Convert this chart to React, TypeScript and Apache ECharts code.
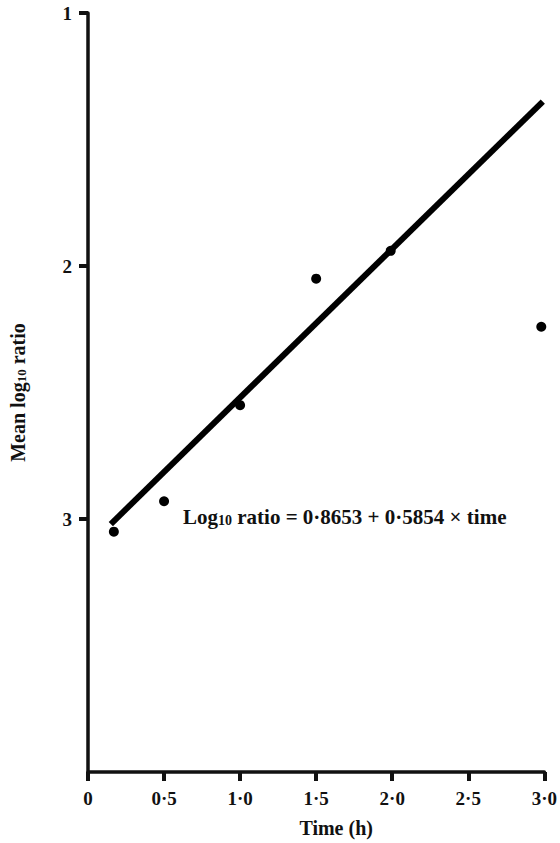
import React, { useEffect, useRef } from "react";
import * as echarts from "echarts";

const pointX = [0.17, 0.5, 1.0, 1.5, 1.99, 2.98];
const pointY = [3.05, 2.93, 2.55, 2.05, 1.94, 2.24];
const fitX = [0.15, 2.99];
const fitY = [3.02, 1.35];
const yTickValues = [1, 2, 3];
const yTickLabels = ["1", "2", "3"];
const xTickLabels = ["0", "0·5", "1·0", "1·5", "2·0", "2·5", "3·0"];

const FONT = "'Liberation Serif', 'DejaVu Serif', serif";

export default function App() {
  const ref = useRef<HTMLDivElement>(null);
  useEffect(() => {
    if (!ref.current) return;
    const chart = echarts.init(ref.current, undefined, { renderer: "svg" });
    chart.setOption({
      animation: false,
      backgroundColor: "#ffffff",
      grid: { left: 87, right: 12, top: 13, bottom: 71, containLabel: false },
      xAxis: {
        type: "value",
        min: 0,
        max: 3,
        interval: 0.5,
        name: "Time (h)",
        nameLocation: "middle",
        nameGap: 46,
        nameTextStyle: {
          fontFamily: FONT,
          fontWeight: "bold",
          fontSize: 20,
          color: "#111",
          padding: [0, 0, 0, 40],
        },
        axisLine: { show: true, onZero: false, lineStyle: { color: "#111", width: 3.5 } },
        axisTick: { show: true, length: 9, inside: false, lineStyle: { color: "#111", width: 4 } },
        axisLabel: {
          margin: 17,
          fontFamily: FONT,
          fontWeight: "bold",
          fontSize: 19,
          color: "#111",
          formatter: (v: number) => xTickLabels[Math.round(v * 2)] ?? "",
        },
        splitLine: { show: false },
      },
      yAxis: {
        type: "value",
        min: 1,
        max: 4,
        interval: 1,
        inverse: true,
        name: "{a|Mean log}{s|10}{a| ratio}",
        nameLocation: "middle",
        nameGap: 60,
        nameRotate: 90,
        nameTextStyle: {
          fontFamily: FONT,
          color: "#111",
          rich: {
            a: { fontFamily: FONT, fontWeight: "bold", fontSize: 20, color: "#111" },
            s: { fontFamily: FONT, fontWeight: "bold", fontSize: 13, color: "#111", padding: [7, 0, 0, 0] },
          },
        },
        axisLine: { show: true, onZero: false, lineStyle: { color: "#111", width: 3.5 } },
        axisTick: {
          show: true,
          length: 9,
          customValues: yTickValues,
          lineStyle: { color: "#111", width: 4 },
        },
        axisLabel: {
          margin: 16,
          fontFamily: FONT,
          fontWeight: "bold",
          fontSize: 19,
          color: "#111",
          formatter: (v: number) => yTickLabels[Math.round(v) - 1] ?? "",
        },
        splitLine: { show: false },
      },
      series: [
        {
          type: "line",
          data: fitX.map((x, i) => [x, fitY[i]]),
          showSymbol: false,
          symbol: "none",
          lineStyle: { color: "#000", width: 6 },
          z: 3,
        },
        {
          type: "scatter",
          data: pointX.map((x, i) => [x, pointY[i]]),
          symbol: "circle",
          symbolSize: 10,
          itemStyle: { color: "#000", opacity: 1 },
          z: 4,
        },
      ],
      graphic: [
        {
          type: "text",
          left: 183,
          top: 506,
          style: {
            text: "{a|Log}{s|10}{a| ratio = 0·8653 + 0·5854 × time}",
            fill: "#111",
            rich: {
              a: { fontFamily: FONT, fontWeight: "bold", fontSize: 21, fill: "#111" },
              s: { fontFamily: FONT, fontWeight: "bold", fontSize: 14, fill: "#111", padding: [7, 0, 0, 0] },
            },
          },
        },
      ],
    });
    return () => chart.dispose();
  }, []);
  return (
    <div
      ref={ref}
      style={{ position: "absolute", left: 0, top: 0, width: 560, height: 843 }}
    />
  );
}
